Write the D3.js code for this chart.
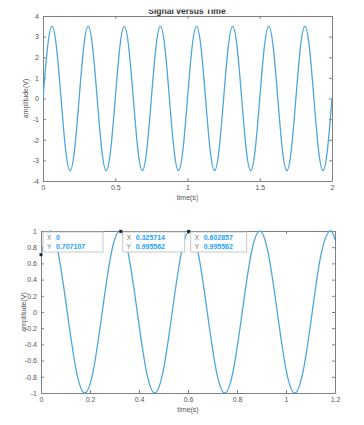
<!DOCTYPE html>
<html><head><meta charset="utf-8">
<script src="https://cdn.jsdelivr.net/npm/d3@7"></script>
<style>body{margin:0;background:#fff}svg{display:block}text{font-family:"Liberation Sans",Arial,sans-serif}</style>
</head><body>
<svg id="c" width="364" height="425"></svg>
<script>
// Top chart: samples (every 1/8 of a period)
const topTime = [0,0.03125,0.0625,0.09375,0.125,0.15625,0.1875,0.21875,0.25,0.28125,0.3125,0.34375,0.375,0.40625,0.4375,0.46875,0.5,0.53125,0.5625,0.59375,0.625,0.65625,0.6875,0.71875,0.75,0.78125,0.8125,0.84375,0.875,0.90625,0.9375,0.96875,1,1.03125,1.0625,1.09375,1.125,1.15625,1.1875,1.21875,1.25,1.28125,1.3125,1.34375,1.375,1.40625,1.4375,1.46875,1.5,1.53125,1.5625,1.59375,1.625,1.65625,1.6875,1.71875,1.75,1.78125,1.8125,1.84375,1.875,1.90625,1.9375,1.96875,2];
const topAmp = [0,2.47,3.5,2.47,0,-2.47,-3.5,-2.47,0,2.47,3.5,2.47,0,-2.47,-3.5,-2.47,0,2.47,3.5,2.47,0,-2.47,-3.5,-2.47,0,2.47,3.5,2.47,0,-2.47,-3.5,-2.47,0,2.47,3.5,2.47,0,-2.47,-3.5,-2.47,0,2.47,3.5,2.47,0,-2.47,-3.5,-2.47,0,2.47,3.5,2.47,0,-2.47,-3.5,-2.47,0,2.47,3.5,2.47,0,-2.47,-3.5,-2.47,0];
const topXTicks = [0,0.5,1,1.5,2];
const topYTicks = [-4,-3,-2,-1,0,1,2,3,4];

// Bottom chart samples
const botTime = [0,0.0357,0.0714,0.1071,0.1429,0.1786,0.2143,0.25,0.2857,0.3214,0.3571,0.3929,0.4286,0.4643,0.5,0.5357,0.5714,0.6071,0.6429,0.6786,0.7143,0.75,0.7857,0.8214,0.8571,0.8929,0.9286,0.9643,1,1.0357,1.0714,1.1071,1.1429,1.1786,1.2];
const botAmp = [0.707,1,0.707,0,-0.707,-1,-0.707,0,0.707,1,0.707,0,-0.707,-1,-0.707,0,0.707,1,0.707,0,-0.707,-1,-0.707,0,0.707,1,0.707,0,-0.707,-1,-0.707,0,0.707,1,0.891];
const botXTicks = [0,0.2,0.4,0.6,0.8,1,1.2];
const botYTicks = [-1,-0.8,-0.6,-0.4,-0.2,0,0.2,0.4,0.6,0.8,1];
const tipX = [0,0.325714,0.602857];
const tipY = [0.707107,0.995562,0.995562];
const tipXLabels = ["0","0.325714","0.602857"];
const tipYLabels = ["0.707107","0.995562","0.995562"];

const svg = d3.select("#c");
const axisCol = "#808080", labCol = "#555", lineCol = "#4ea6dc";

function panel(o){
  const g = svg.append("g");
  const x = d3.scaleLinear().domain(o.xd).range([o.l,o.r]);
  const y = d3.scaleLinear().domain(o.yd).range([o.b,o.t]);
  const fmt = d => String(d);
  const mk = (ax, tr) => { const a = g.append("g").attr("transform", tr).call(ax);
    a.select(".domain").attr("stroke", axisCol);
    a.selectAll(".tick line").attr("stroke", axisCol);
    a.selectAll("text").attr("fill", labCol).style("font-size","7px");
    return a; };
  mk(d3.axisBottom(x).tickValues(o.xt).tickFormat(fmt).tickSizeInner(-3).tickSizeOuter(0).tickPadding(4), `translate(0,${o.b})`);
  mk(d3.axisLeft(y).tickValues(o.yt).tickFormat(fmt).tickSizeInner(-3).tickSizeOuter(0).tickPadding(4), `translate(${o.l},0)`);
  mk(d3.axisTop(x).tickValues(o.xt).tickFormat("").tickSizeInner(-3).tickSizeOuter(0), `translate(0,${o.t})`);
  mk(d3.axisRight(y).tickValues(o.yt).tickFormat("").tickSizeInner(-3).tickSizeOuter(0), `translate(${o.r},0)`);
  const cid = "clip"+o.id;
  svg.append("clipPath").attr("id",cid).append("rect").attr("x",o.l).attr("y",o.t-1).attr("width",o.r-o.l).attr("height",o.b-o.t+2);
  const pts = o.xs.map((v,i)=>[v,o.ys[i]]);
  g.append("path").attr("clip-path",`url(#${cid})`).attr("d", d3.line().x(d=>x(d[0])).y(d=>y(d[1])).curve(d3.curveNatural)(pts))
    .attr("fill","none").attr("stroke",lineCol).attr("stroke-width",1.3);
  g.append("text").attr("x",(o.l+o.r)/2).attr("y",o.b+19).attr("text-anchor","middle").attr("fill",labCol).style("font-size","7px").text("time(s)");
  g.append("text").attr("transform",`translate(${o.l-15},${(o.t+o.b)/2}) rotate(-90)`).attr("text-anchor","middle").attr("fill",labCol).style("font-size","7px").text("amplitude(V)");
  return {g,x,y};
}

const p1 = panel({id:1,l:43,r:332,t:16,b:181,xd:[0,2],yd:[-4,4],xt:topXTicks,yt:topYTicks,xs:topTime,ys:topAmp});
svg.append("clipPath").attr("id","tclip").append("rect").attr("x",0).attr("y",9.5).attr("width",364).attr("height",20);
svg.append("text").attr("clip-path","url(#tclip)").attr("x",187).attr("y",14).attr("text-anchor","middle").attr("fill","#333").style("font-size","8.5px").style("font-weight","bold").text("Signal versus Time");

const p2 = panel({id:2,l:41,r:335,t:231,b:393,xd:[0,1.2],yd:[-1,1],xt:botXTicks,yt:botYTicks,xs:botTime,ys:botAmp});

const boxW = [60,62,56];
tipX.forEach((tx,i)=>{
  const px = p2.x(tx), py = p2.y(tipY[i]);
  const bx = px+2, by = 232;
  const tg = p2.g.append("g");
  tg.append("rect").attr("x",bx).attr("y",by).attr("width",boxW[i]).attr("height",20).attr("fill","#fff").attr("fill-opacity",0.95).attr("stroke","#bbb").attr("stroke-width",0.8);
  tg.append("text").attr("x",bx+4).attr("y",by+8).attr("fill","#777").style("font-size","6.5px").text("X");
  tg.append("text").attr("x",bx+4).attr("y",by+16.5).attr("fill","#777").style("font-size","6.5px").text("Y");
  tg.append("text").attr("x",bx+13).attr("y",by+8).attr("fill","#1aa3ff").style("font-size","7px").style("font-weight","bold").text(tipXLabels[i]);
  tg.append("text").attr("x",bx+13).attr("y",by+16.5).attr("fill","#1aa3ff").style("font-size","7px").style("font-weight","bold").text(tipYLabels[i]);
  p2.g.append("rect").attr("x",px-1.5).attr("y",py-1.5).attr("width",3).attr("height",3).attr("fill","#222");
});
</script>
</body></html>
